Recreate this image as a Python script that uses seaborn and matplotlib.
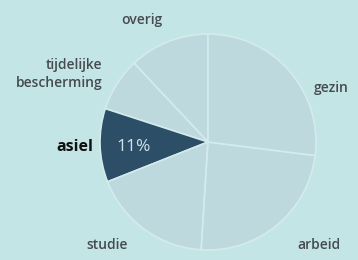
import matplotlib
matplotlib.use("Agg")
import matplotlib.pyplot as plt
import seaborn as sns

# data: shares per category, counter-clockwise from the top
categories = ["overig", "tijdelijke\nbescherming", "asiel", "studie", "arbeid", "gezin"]
shares = [12, 8, 11, 18, 24, 27]
highlight = "asiel"

# label placement (x, y in pie units) and alignment
label_pos = [(-0.61, 1.13), (-0.98, 0.63), (-1.065, -0.05), (-0.935, -0.95), (1.03, -0.95), (1.14, 0.50)]
label_ha = ["center", "right", "right", "center", "center", "center"]

BG = "#c4e5e6"
SLICE = "#bdd9de"
DARK = "#2c4f67"

sns.set_theme(style="white")
plt.rcParams["font.family"] = ["Open Sans", "DejaVu Sans"]

fig = plt.figure(figsize=(3.58, 2.60), dpi=100, facecolor=BG)
ax = fig.add_axes([0, 0, 1, 1])
ax.set_facecolor(BG)

colors = [DARK if c == highlight else SLICE for c in categories]
wedges, _ = ax.pie(shares, colors=colors, startangle=90, counterclock=True,
                   wedgeprops=dict(edgecolor="#d4ebed", linewidth=1.2))

for c, s, w, (x, y), ha in zip(categories, shares, wedges, label_pos, label_ha):
    if c == highlight:
        ax.text(x, y, c, ha=ha, va="center", fontsize=11.5, fontweight="bold", color="#111111")
        ax.text(-0.685, -0.05, f"{s}%", ha="center", va="center", fontsize=12.5, color="#cfe4ea")
    else:
        ax.text(x, y, c, ha=ha, va="center", fontsize=10, fontweight="semibold",
                color="#454b50", linespacing=1.35, multialignment=ha)

# pie radius ~108 px, centre at (208, 142) px from the top-left corner
r = 108.0
ax.set_xlim(-208 / r, (358 - 208) / r)
ax.set_ylim(-(260 - 142) / r, 142 / r)
ax.set_aspect("auto")
ax.axis("off")

fig.savefig("out.png", dpi=100, facecolor=BG)
